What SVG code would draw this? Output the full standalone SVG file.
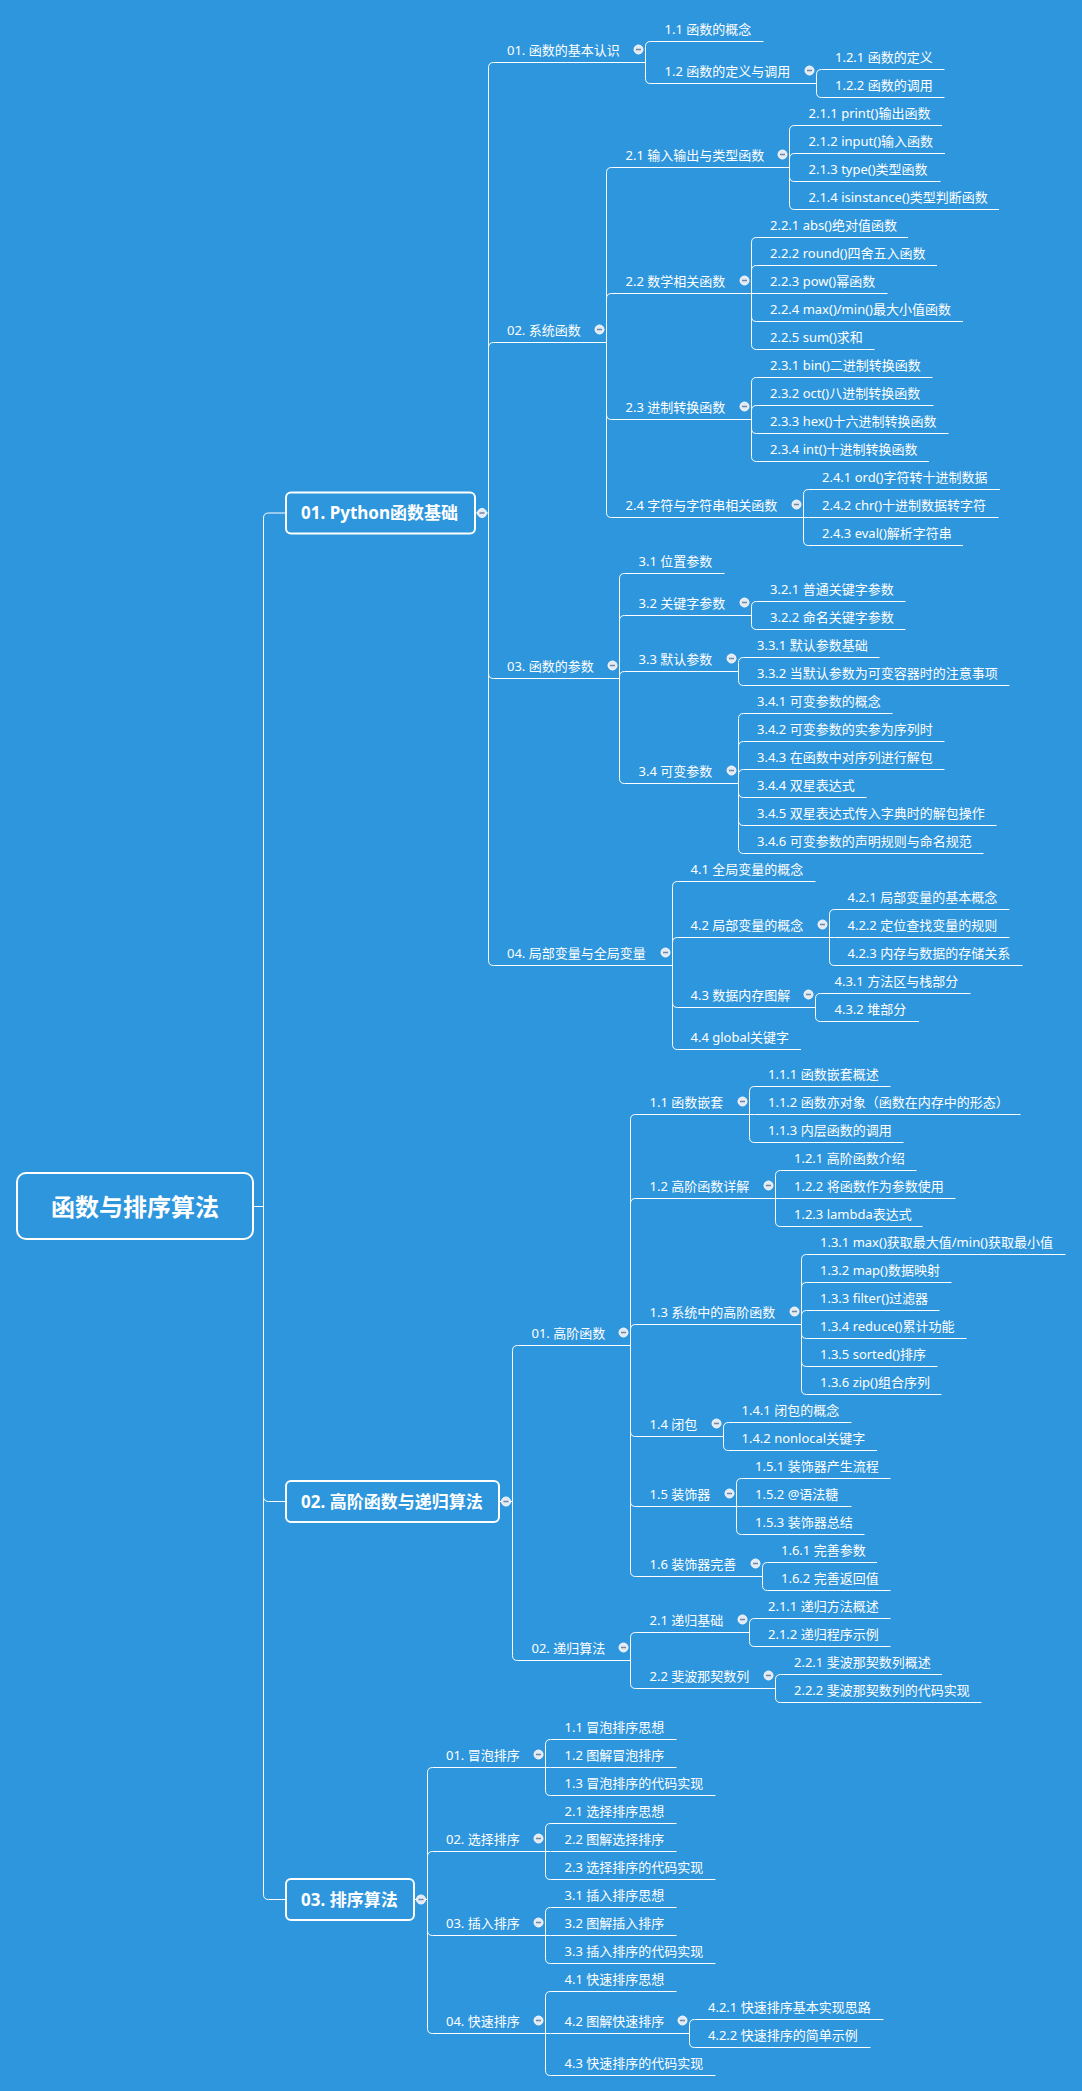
<svg xmlns="http://www.w3.org/2000/svg" xmlns:xlink="http://www.w3.org/1999/xlink" width="1082" height="2091" viewBox="0 0 1082 2091">
<defs>
<style>
.t{font-family:"Noto Sans","Noto Sans CJK SC",sans-serif;font-size:13px;fill:#fff}
.h{font-size:17px;font-weight:bold}
.r{font-size:24px;font-weight:bold}
.u,.c{stroke:#fff;stroke-width:1;fill:none}
.box{fill:none;stroke:#fff;stroke-width:2}
</style>
<g id="b"><circle r="4.5" fill="#e3eaf3" stroke="#f4f7fb" stroke-width="1"/><line x1="-2.5" x2="2.5" y1="0" y2="0" stroke="#6f88a6" stroke-width="1.5"/></g>
</defs>
<rect width="1082" height="2091" fill="#2E96DD"/>

<g id="connectors">
<!-- root -->
<path class="c" d="M253 1206.5 H263.5"/>
<path class="c" d="M263.5 1206.5 V518 Q263.5 513 268.5 513 H286"/>
<path class="c" d="M263.5 1206.5 V1496.5 Q263.5 1501.5 268.5 1501.5 H286"/>
<path class="c" d="M263.5 1206.5 V1894.5 Q263.5 1899.5 268.5 1899.5 H286"/>
<!-- section 1 -->
<path class="c" d="M475 513 H488.5"/>
<path class="c" d="M488.5 513 V67.5 Q488.5 62.5 493.5 62.5"/>
<path class="c" d="M488.5 513 V347.5 Q488.5 342.5 493.5 342.5"/>
<path class="c" d="M488.5 513 V673.5 Q488.5 678.5 493.5 678.5"/>
<path class="c" d="M488.5 513 V960.5 Q488.5 965.5 493.5 965.5"/>
<path class="c" d="M645.5 62.5 V46.5 Q645.5 41.5 650.5 41.5"/>
<path class="c" d="M645.5 62.5 V78.5 Q645.5 83.5 650.5 83.5"/>
<path class="c" d="M816.5 83.5 V74.5 Q816.5 69.5 821.5 69.5"/>
<path class="c" d="M816.5 83.5 V92.5 Q816.5 97.5 821.5 97.5"/>
<path class="c" d="M606.5 342.5 V172.5 Q606.5 167.5 611.5 167.5"/>
<path class="c" d="M606.5 342.5 V298.5 Q606.5 293.5 611.5 293.5"/>
<path class="c" d="M606.5 342.5 V414.5 Q606.5 419.5 611.5 419.5"/>
<path class="c" d="M606.5 342.5 V512.5 Q606.5 517.5 611.5 517.5"/>
<path class="c" d="M789.5 167.5 V130.5 Q789.5 125.5 794.5 125.5"/>
<path class="c" d="M789.5 167.5 V158.5 Q789.5 153.5 794.5 153.5"/>
<path class="c" d="M789.5 167.5 V176.5 Q789.5 181.5 794.5 181.5"/>
<path class="c" d="M789.5 167.5 V204.5 Q789.5 209.5 794.5 209.5"/>
<path class="c" d="M751.5 293.5 V242.5 Q751.5 237.5 756.5 237.5"/>
<path class="c" d="M751.5 293.5 V270.5 Q751.5 265.5 756.5 265.5"/>
<path class="c" d="M751.5 293.5 H756.5"/>
<path class="c" d="M751.5 293.5 V316.5 Q751.5 321.5 756.5 321.5"/>
<path class="c" d="M751.5 293.5 V344.5 Q751.5 349.5 756.5 349.5"/>
<path class="c" d="M751.5 419.5 V382.5 Q751.5 377.5 756.5 377.5"/>
<path class="c" d="M751.5 419.5 V410.5 Q751.5 405.5 756.5 405.5"/>
<path class="c" d="M751.5 419.5 V428.5 Q751.5 433.5 756.5 433.5"/>
<path class="c" d="M751.5 419.5 V456.5 Q751.5 461.5 756.5 461.5"/>
<path class="c" d="M803.5 517.5 V494.5 Q803.5 489.5 808.5 489.5"/>
<path class="c" d="M803.5 517.5 H808.5"/>
<path class="c" d="M803.5 517.5 V540.5 Q803.5 545.5 808.5 545.5"/>
<path class="c" d="M619.5 678.5 V578.5 Q619.5 573.5 624.5 573.5"/>
<path class="c" d="M619.5 678.5 V620.5 Q619.5 615.5 624.5 615.5"/>
<path class="c" d="M619.5 678.5 V676.5 Q619.5 671.5 624.5 671.5"/>
<path class="c" d="M619.5 678.5 V778.5 Q619.5 783.5 624.5 783.5"/>
<path class="c" d="M751.5 615.5 V606.5 Q751.5 601.5 756.5 601.5"/>
<path class="c" d="M751.5 615.5 V624.5 Q751.5 629.5 756.5 629.5"/>
<path class="c" d="M738.5 671.5 V662.5 Q738.5 657.5 743.5 657.5"/>
<path class="c" d="M738.5 671.5 V680.5 Q738.5 685.5 743.5 685.5"/>
<path class="c" d="M738.5 783.5 V718.5 Q738.5 713.5 743.5 713.5"/>
<path class="c" d="M738.5 783.5 V746.5 Q738.5 741.5 743.5 741.5"/>
<path class="c" d="M738.5 783.5 V774.5 Q738.5 769.5 743.5 769.5"/>
<path class="c" d="M738.5 783.5 V792.5 Q738.5 797.5 743.5 797.5"/>
<path class="c" d="M738.5 783.5 V820.5 Q738.5 825.5 743.5 825.5"/>
<path class="c" d="M738.5 783.5 V848.5 Q738.5 853.5 743.5 853.5"/>
<path class="c" d="M672.5 965.5 V886.5 Q672.5 881.5 677.5 881.5"/>
<path class="c" d="M672.5 965.5 V942.5 Q672.5 937.5 677.5 937.5"/>
<path class="c" d="M672.5 965.5 V1002.5 Q672.5 1007.5 677.5 1007.5"/>
<path class="c" d="M672.5 965.5 V1044.5 Q672.5 1049.5 677.5 1049.5"/>
<path class="c" d="M829.5 937.5 V914.5 Q829.5 909.5 834.5 909.5"/>
<path class="c" d="M829.5 937.5 H834.5"/>
<path class="c" d="M829.5 937.5 V960.5 Q829.5 965.5 834.5 965.5"/>
<path class="c" d="M815.5 1007.5 V998.5 Q815.5 993.5 820.5 993.5"/>
<path class="c" d="M815.5 1007.5 V1016.5 Q815.5 1021.5 820.5 1021.5"/>
<!-- section 2 -->
<path class="c" d="M499 1501.5 H512.5"/>
<path class="c" d="M512.5 1501.5 V1350.5 Q512.5 1345.5 517.5 1345.5"/>
<path class="c" d="M512.5 1501.5 V1655.5 Q512.5 1660.5 517.5 1660.5"/>
<path class="c" d="M630.5 1345.5 V1119.5 Q630.5 1114.5 635.5 1114.5"/>
<path class="c" d="M630.5 1345.5 V1203.5 Q630.5 1198.5 635.5 1198.5"/>
<path class="c" d="M630.5 1345.5 V1329.5 Q630.5 1324.5 635.5 1324.5"/>
<path class="c" d="M630.5 1345.5 V1431.5 Q630.5 1436.5 635.5 1436.5"/>
<path class="c" d="M630.5 1345.5 V1501.5 Q630.5 1506.5 635.5 1506.5"/>
<path class="c" d="M630.5 1345.5 V1571.5 Q630.5 1576.5 635.5 1576.5"/>
<path class="c" d="M749.5 1114.5 V1091.5 Q749.5 1086.5 754.5 1086.5"/>
<path class="c" d="M749.5 1114.5 H754.5"/>
<path class="c" d="M749.5 1114.5 V1137.5 Q749.5 1142.5 754.5 1142.5"/>
<path class="c" d="M775.5 1198.5 V1175.5 Q775.5 1170.5 780.5 1170.5"/>
<path class="c" d="M775.5 1198.5 H780.5"/>
<path class="c" d="M775.5 1198.5 V1221.5 Q775.5 1226.5 780.5 1226.5"/>
<path class="c" d="M801.5 1324.5 V1259.5 Q801.5 1254.5 806.5 1254.5"/>
<path class="c" d="M801.5 1324.5 V1287.5 Q801.5 1282.5 806.5 1282.5"/>
<path class="c" d="M801.5 1324.5 V1315.5 Q801.5 1310.5 806.5 1310.5"/>
<path class="c" d="M801.5 1324.5 V1333.5 Q801.5 1338.5 806.5 1338.5"/>
<path class="c" d="M801.5 1324.5 V1361.5 Q801.5 1366.5 806.5 1366.5"/>
<path class="c" d="M801.5 1324.5 V1389.5 Q801.5 1394.5 806.5 1394.5"/>
<path class="c" d="M723.5 1436.5 V1427.5 Q723.5 1422.5 728.5 1422.5"/>
<path class="c" d="M723.5 1436.5 V1445.5 Q723.5 1450.5 728.5 1450.5"/>
<path class="c" d="M736.5 1506.5 V1483.5 Q736.5 1478.5 741.5 1478.5"/>
<path class="c" d="M736.5 1506.5 H741.5"/>
<path class="c" d="M736.5 1506.5 V1529.5 Q736.5 1534.5 741.5 1534.5"/>
<path class="c" d="M762.5 1576.5 V1567.5 Q762.5 1562.5 767.5 1562.5"/>
<path class="c" d="M762.5 1576.5 V1585.5 Q762.5 1590.5 767.5 1590.5"/>
<path class="c" d="M630.5 1660.5 V1637.5 Q630.5 1632.5 635.5 1632.5"/>
<path class="c" d="M630.5 1660.5 V1683.5 Q630.5 1688.5 635.5 1688.5"/>
<path class="c" d="M749.5 1632.5 V1623.5 Q749.5 1618.5 754.5 1618.5"/>
<path class="c" d="M749.5 1632.5 V1641.5 Q749.5 1646.5 754.5 1646.5"/>
<path class="c" d="M775.5 1688.5 V1679.5 Q775.5 1674.5 780.5 1674.5"/>
<path class="c" d="M775.5 1688.5 V1697.5 Q775.5 1702.5 780.5 1702.5"/>
<!-- section 3 -->
<path class="c" d="M414 1899.5 H427.5"/>
<path class="c" d="M427.5 1899.5 V1772.5 Q427.5 1767.5 432.5 1767.5"/>
<path class="c" d="M427.5 1899.5 V1856.5 Q427.5 1851.5 432.5 1851.5"/>
<path class="c" d="M427.5 1899.5 V1930.5 Q427.5 1935.5 432.5 1935.5"/>
<path class="c" d="M427.5 1899.5 V2028.5 Q427.5 2033.5 432.5 2033.5"/>
<path class="c" d="M545.5 1767.5 V1744.5 Q545.5 1739.5 550.5 1739.5"/>
<path class="c" d="M545.5 1767.5 H550.5"/>
<path class="c" d="M545.5 1767.5 V1790.5 Q545.5 1795.5 550.5 1795.5"/>
<path class="c" d="M545.5 1851.5 V1828.5 Q545.5 1823.5 550.5 1823.5"/>
<path class="c" d="M545.5 1851.5 H550.5"/>
<path class="c" d="M545.5 1851.5 V1874.5 Q545.5 1879.5 550.5 1879.5"/>
<path class="c" d="M545.5 1935.5 V1912.5 Q545.5 1907.5 550.5 1907.5"/>
<path class="c" d="M545.5 1935.5 H550.5"/>
<path class="c" d="M545.5 1935.5 V1958.5 Q545.5 1963.5 550.5 1963.5"/>
<path class="c" d="M545.5 2033.5 V1996.5 Q545.5 1991.5 550.5 1991.5"/>
<path class="c" d="M545.5 2033.5 H550.5"/>
<path class="c" d="M545.5 2033.5 V2070.5 Q545.5 2075.5 550.5 2075.5"/>
<path class="c" d="M689.5 2033.5 V2024.5 Q689.5 2019.5 694.5 2019.5"/>
<path class="c" d="M689.5 2033.5 V2042.5 Q689.5 2047.5 694.5 2047.5"/>
</g>

<!-- root -->
<g id="root"><rect class="box" x="17" y="1173" width="236" height="66" rx="9" stroke-width="2.5"/><text class="t r" x="135" y="1216" text-anchor="middle">函数与排序算法</text></g>

<!-- top-level -->
<g id="n1"><rect class="box" x="286" y="492.5" width="189" height="41" rx="5"/><text class="t h" x="301" y="519">01. Python函数基础</text><use href="#b" x="482" y="513"/></g>
<g id="n2"><rect class="box" x="286" y="1481" width="213" height="41" rx="5"/><text class="t h" x="301" y="1507.5">02. 高阶函数与递归算法</text><use href="#b" x="506" y="1501.5"/></g>
<g id="n3"><rect class="box" x="286" y="1879" width="128" height="41" rx="5"/><text class="t h" x="301" y="1905.5">03. 排序算法</text><use href="#b" x="421" y="1899.5"/></g>

<!-- section 1 -->
<g id="n1-1"><text class="t" x="507" y="55">01. 函数的基本认识</text><line class="u" x1="493.5" y1="62.5" x2="645.5" y2="62.5"/><use href="#b" x="638.5" y="49.5"/></g>
<g id="n1-1-1"><text class="t" x="664.5" y="34">1.1 函数的概念</text><line class="u" x1="650.5" y1="41.5" x2="763.5" y2="41.5"/></g>
<g id="n1-1-2"><text class="t" x="664.5" y="76">1.2 函数的定义与调用</text><line class="u" x1="650.5" y1="83.5" x2="816.5" y2="83.5"/><use href="#b" x="809.5" y="70.5"/></g>
<g id="n1-1-2-1"><text class="t" x="835" y="62">1.2.1 函数的定义</text><line class="u" x1="821.5" y1="69.5" x2="944.5" y2="69.5"/></g>
<g id="n1-1-2-2"><text class="t" x="835" y="90">1.2.2 函数的调用</text><line class="u" x1="821.5" y1="97.5" x2="944.5" y2="97.5"/></g>

<g id="n1-2"><text class="t" x="507" y="335">02. 系统函数</text><line class="u" x1="493.5" y1="342.5" x2="606.5" y2="342.5"/><use href="#b" x="599.5" y="329.5"/></g>
<g id="n1-2-1"><text class="t" x="625.5" y="160">2.1 输入输出与类型函数</text><line class="u" x1="611.5" y1="167.5" x2="789.5" y2="167.5"/><use href="#b" x="782.5" y="154.5"/></g>
<g id="n1-2-1-1"><text class="t" x="808.5" y="118">2.1.1 print()输出函数</text><line class="u" x1="794.5" y1="125.5" x2="942" y2="125.5"/></g>
<g id="n1-2-1-2"><text class="t" x="808.5" y="146">2.1.2 input()输入函数</text><line class="u" x1="794.5" y1="153.5" x2="945" y2="153.5"/></g>
<g id="n1-2-1-3"><text class="t" x="808.5" y="174">2.1.3 type()类型函数</text><line class="u" x1="794.5" y1="181.5" x2="940.5" y2="181.5"/></g>
<g id="n1-2-1-4"><text class="t" x="808.5" y="202">2.1.4 isinstance()类型判断函数</text><line class="u" x1="794.5" y1="209.5" x2="999" y2="209.5"/></g>
<g id="n1-2-2"><text class="t" x="625.5" y="286">2.2 数学相关函数</text><line class="u" x1="611.5" y1="293.5" x2="751.5" y2="293.5"/><use href="#b" x="744.5" y="280.5"/></g>
<g id="n1-2-2-1"><text class="t" x="770" y="230">2.2.1 abs()绝对值函数</text><line class="u" x1="756.5" y1="237.5" x2="908" y2="237.5"/></g>
<g id="n1-2-2-2"><text class="t" x="770" y="258">2.2.2 round()四舍五入函数</text><line class="u" x1="756.5" y1="265.5" x2="937" y2="265.5"/></g>
<g id="n1-2-2-3"><text class="t" x="770" y="286">2.2.3 pow()幂函数</text><line class="u" x1="756.5" y1="293.5" x2="887.5" y2="293.5"/></g>
<g id="n1-2-2-4"><text class="t" x="770" y="314">2.2.4 max()/min()最大小值函数</text><line class="u" x1="756.5" y1="321.5" x2="963" y2="321.5"/></g>
<g id="n1-2-2-5"><text class="t" x="770" y="342">2.2.5 sum()求和</text><line class="u" x1="756.5" y1="349.5" x2="874.5" y2="349.5"/></g>
<g id="n1-2-3"><text class="t" x="625.5" y="412">2.3 进制转换函数</text><line class="u" x1="611.5" y1="419.5" x2="751.5" y2="419.5"/><use href="#b" x="744.5" y="406.5"/></g>
<g id="n1-2-3-1"><text class="t" x="770" y="370">2.3.1 bin()二进制转换函数</text><line class="u" x1="756.5" y1="377.5" x2="932.5" y2="377.5"/></g>
<g id="n1-2-3-2"><text class="t" x="770" y="398">2.3.2 oct()八进制转换函数</text><line class="u" x1="756.5" y1="405.5" x2="933.5" y2="405.5"/></g>
<g id="n1-2-3-3"><text class="t" x="770" y="426">2.3.3 hex()十六进制转换函数</text><line class="u" x1="756.5" y1="433.5" x2="948.5" y2="433.5"/></g>
<g id="n1-2-3-4"><text class="t" x="770" y="454">2.3.4 int()十进制转换函数</text><line class="u" x1="756.5" y1="461.5" x2="929" y2="461.5"/></g>
<g id="n1-2-4"><text class="t" x="625.5" y="510">2.4 字符与字符串相关函数</text><line class="u" x1="611.5" y1="517.5" x2="803.5" y2="517.5"/><use href="#b" x="796.5" y="504.5"/></g>
<g id="n1-2-4-1"><text class="t" x="822" y="482">2.4.1 ord()字符转十进制数据</text><line class="u" x1="808.5" y1="489.5" x2="1000" y2="489.5"/></g>
<g id="n1-2-4-2"><text class="t" x="822" y="510">2.4.2 chr()十进制数据转字符</text><line class="u" x1="808.5" y1="517.5" x2="998.5" y2="517.5"/></g>
<g id="n1-2-4-3"><text class="t" x="822" y="538">2.4.3 eval()解析字符串</text><line class="u" x1="808.5" y1="545.5" x2="963" y2="545.5"/></g>

<g id="n1-3"><text class="t" x="507" y="671">03. 函数的参数</text><line class="u" x1="493.5" y1="678.5" x2="619.5" y2="678.5"/><use href="#b" x="612.5" y="665.5"/></g>
<g id="n1-3-1"><text class="t" x="638.5" y="566">3.1 位置参数</text><line class="u" x1="624.5" y1="573.5" x2="724.5" y2="573.5"/></g>
<g id="n1-3-2"><text class="t" x="638.5" y="608">3.2 关键字参数</text><line class="u" x1="624.5" y1="615.5" x2="751.5" y2="615.5"/><use href="#b" x="744.5" y="602.5"/></g>
<g id="n1-3-2-1"><text class="t" x="770" y="594">3.2.1 普通关键字参数</text><line class="u" x1="756.5" y1="601.5" x2="905.5" y2="601.5"/></g>
<g id="n1-3-2-2"><text class="t" x="770" y="622">3.2.2 命名关键字参数</text><line class="u" x1="756.5" y1="629.5" x2="905.5" y2="629.5"/></g>
<g id="n1-3-3"><text class="t" x="638.5" y="664">3.3 默认参数</text><line class="u" x1="624.5" y1="671.5" x2="738.5" y2="671.5"/><use href="#b" x="731.5" y="658.5"/></g>
<g id="n1-3-3-1"><text class="t" x="757" y="650">3.3.1 默认参数基础</text><line class="u" x1="743.5" y1="657.5" x2="879.5" y2="657.5"/></g>
<g id="n1-3-3-2"><text class="t" x="757" y="678">3.3.2 当默认参数为可变容器时的注意事项</text><line class="u" x1="743.5" y1="685.5" x2="1009.5" y2="685.5"/></g>
<g id="n1-3-4"><text class="t" x="638.5" y="776">3.4 可变参数</text><line class="u" x1="624.5" y1="783.5" x2="738.5" y2="783.5"/><use href="#b" x="731.5" y="770.5"/></g>
<g id="n1-3-4-1"><text class="t" x="757" y="706">3.4.1 可变参数的概念</text><line class="u" x1="743.5" y1="713.5" x2="892.5" y2="713.5"/></g>
<g id="n1-3-4-2"><text class="t" x="757" y="734">3.4.2 可变参数的实参为序列时</text><line class="u" x1="743.5" y1="741.5" x2="944.5" y2="741.5"/></g>
<g id="n1-3-4-3"><text class="t" x="757" y="762">3.4.3 在函数中对序列进行解包</text><line class="u" x1="743.5" y1="769.5" x2="944.5" y2="769.5"/></g>
<g id="n1-3-4-4"><text class="t" x="757" y="790">3.4.4 双星表达式</text><line class="u" x1="743.5" y1="797.5" x2="866.5" y2="797.5"/></g>
<g id="n1-3-4-5"><text class="t" x="757" y="818">3.4.5 双星表达式传入字典时的解包操作</text><line class="u" x1="743.5" y1="825.5" x2="996.5" y2="825.5"/></g>
<g id="n1-3-4-6"><text class="t" x="757" y="846">3.4.6 可变参数的声明规则与命名规范</text><line class="u" x1="743.5" y1="853.5" x2="983.5" y2="853.5"/></g>

<g id="n1-4"><text class="t" x="507" y="958">04. 局部变量与全局变量</text><line class="u" x1="493.5" y1="965.5" x2="672.5" y2="965.5"/><use href="#b" x="665.5" y="952.5"/></g>
<g id="n1-4-1"><text class="t" x="690.5" y="874">4.1 全局变量的概念</text><line class="u" x1="677.5" y1="881.5" x2="815.5" y2="881.5"/></g>
<g id="n1-4-2"><text class="t" x="690.5" y="930">4.2 局部变量的概念</text><line class="u" x1="677.5" y1="937.5" x2="829.5" y2="937.5"/><use href="#b" x="822.5" y="924.5"/></g>
<g id="n1-4-2-1"><text class="t" x="847.5" y="902">4.2.1 局部变量的基本概念</text><line class="u" x1="834.5" y1="909.5" x2="1009.5" y2="909.5"/></g>
<g id="n1-4-2-2"><text class="t" x="847.5" y="930">4.2.2 定位查找变量的规则</text><line class="u" x1="834.5" y1="937.5" x2="1009.5" y2="937.5"/></g>
<g id="n1-4-2-3"><text class="t" x="847.5" y="958">4.2.3 内存与数据的存储关系</text><line class="u" x1="834.5" y1="965.5" x2="1022.5" y2="965.5"/></g>
<g id="n1-4-3"><text class="t" x="690.5" y="1000">4.3 数据内存图解</text><line class="u" x1="677.5" y1="1007.5" x2="815.5" y2="1007.5"/><use href="#b" x="808.5" y="994.5"/></g>
<g id="n1-4-3-1"><text class="t" x="834.5" y="986">4.3.1 方法区与栈部分</text><line class="u" x1="820.5" y1="993.5" x2="970.5" y2="993.5"/></g>
<g id="n1-4-3-2"><text class="t" x="834.5" y="1014">4.3.2 堆部分</text><line class="u" x1="820.5" y1="1021.5" x2="919" y2="1021.5"/></g>
<g id="n1-4-4"><text class="t" x="690.5" y="1042">4.4 global关键字</text><line class="u" x1="677.5" y1="1049.5" x2="801" y2="1049.5"/></g>

<!-- section 2 -->
<g id="n2-1"><text class="t" x="531.5" y="1338">01. 高阶函数</text><line class="u" x1="517.5" y1="1345.5" x2="630.5" y2="1345.5"/><use href="#b" x="623.5" y="1332.5"/></g>
<g id="n2-1-1"><text class="t" x="649.5" y="1107">1.1 函数嵌套</text><line class="u" x1="635.5" y1="1114.5" x2="749.5" y2="1114.5"/><use href="#b" x="742.5" y="1101.5"/></g>
<g id="n2-1-1-1"><text class="t" x="768" y="1079">1.1.1 函数嵌套概述</text><line class="u" x1="754.5" y1="1086.5" x2="890.5" y2="1086.5"/></g>
<g id="n2-1-1-2"><text class="t" x="768" y="1107">1.1.2 函数亦对象（函数在内存中的形态）</text><line class="u" x1="754.5" y1="1114.5" x2="1020.5" y2="1114.5"/></g>
<g id="n2-1-1-3"><text class="t" x="768" y="1135">1.1.3 内层函数的调用</text><line class="u" x1="754.5" y1="1142.5" x2="903.5" y2="1142.5"/></g>
<g id="n2-1-2"><text class="t" x="649.5" y="1191">1.2 高阶函数详解</text><line class="u" x1="635.5" y1="1198.5" x2="775.5" y2="1198.5"/><use href="#b" x="768.5" y="1185.5"/></g>
<g id="n2-1-2-1"><text class="t" x="794" y="1163">1.2.1 高阶函数介绍</text><line class="u" x1="780.5" y1="1170.5" x2="916.5" y2="1170.5"/></g>
<g id="n2-1-2-2"><text class="t" x="794" y="1191">1.2.2 将函数作为参数使用</text><line class="u" x1="780.5" y1="1198.5" x2="955.5" y2="1198.5"/></g>
<g id="n2-1-2-3"><text class="t" x="794" y="1219">1.2.3 lambda表达式</text><line class="u" x1="780.5" y1="1226.5" x2="922.5" y2="1226.5"/></g>
<g id="n2-1-3"><text class="t" x="649.5" y="1317">1.3 系统中的高阶函数</text><line class="u" x1="635.5" y1="1324.5" x2="801.5" y2="1324.5"/><use href="#b" x="794.5" y="1311.5"/></g>
<g id="n2-1-3-1"><text class="t" x="820" y="1247">1.3.1 max()获取最大值/min()获取最小值</text><line class="u" x1="806.5" y1="1254.5" x2="1065.5" y2="1254.5"/></g>
<g id="n2-1-3-2"><text class="t" x="820" y="1275">1.3.2 map()数据映射</text><line class="u" x1="806.5" y1="1282.5" x2="951.5" y2="1282.5"/></g>
<g id="n2-1-3-3"><text class="t" x="820" y="1303">1.3.3 filter()过滤器</text><line class="u" x1="806.5" y1="1310.5" x2="939.5" y2="1310.5"/></g>
<g id="n2-1-3-4"><text class="t" x="820" y="1331">1.3.4 reduce()累计功能</text><line class="u" x1="806.5" y1="1338.5" x2="966.5" y2="1338.5"/></g>
<g id="n2-1-3-5"><text class="t" x="820" y="1359">1.3.5 sorted()排序</text><line class="u" x1="806.5" y1="1366.5" x2="937.5" y2="1366.5"/></g>
<g id="n2-1-3-6"><text class="t" x="820" y="1387">1.3.6 zip()组合序列</text><line class="u" x1="806.5" y1="1394.5" x2="941.5" y2="1394.5"/></g>
<g id="n2-1-4"><text class="t" x="649.5" y="1429">1.4 闭包</text><line class="u" x1="635.5" y1="1436.5" x2="723.5" y2="1436.5"/><use href="#b" x="716.5" y="1423.5"/></g>
<g id="n2-1-4-1"><text class="t" x="741.5" y="1415">1.4.1 闭包的概念</text><line class="u" x1="728.5" y1="1422.5" x2="851.5" y2="1422.5"/></g>
<g id="n2-1-4-2"><text class="t" x="741.5" y="1443">1.4.2 nonlocal关键字</text><line class="u" x1="728.5" y1="1450.5" x2="877" y2="1450.5"/></g>
<g id="n2-1-5"><text class="t" x="649.5" y="1499">1.5 装饰器</text><line class="u" x1="635.5" y1="1506.5" x2="736.5" y2="1506.5"/><use href="#b" x="729.5" y="1493.5"/></g>
<g id="n2-1-5-1"><text class="t" x="755" y="1471">1.5.1 装饰器产生流程</text><line class="u" x1="741.5" y1="1478.5" x2="890.5" y2="1478.5"/></g>
<g id="n2-1-5-2"><text class="t" x="755" y="1499">1.5.2 @语法糖</text><line class="u" x1="741.5" y1="1506.5" x2="851.5" y2="1506.5"/></g>
<g id="n2-1-5-3"><text class="t" x="755" y="1527">1.5.3 装饰器总结</text><line class="u" x1="741.5" y1="1534.5" x2="864.5" y2="1534.5"/></g>
<g id="n2-1-6"><text class="t" x="649.5" y="1569">1.6 装饰器完善</text><line class="u" x1="635.5" y1="1576.5" x2="762.5" y2="1576.5"/><use href="#b" x="755.5" y="1563.5"/></g>
<g id="n2-1-6-1"><text class="t" x="781" y="1555">1.6.1 完善参数</text><line class="u" x1="767.5" y1="1562.5" x2="877" y2="1562.5"/></g>
<g id="n2-1-6-2"><text class="t" x="781" y="1583">1.6.2 完善返回值</text><line class="u" x1="767.5" y1="1590.5" x2="890.5" y2="1590.5"/></g>

<g id="n2-2"><text class="t" x="531.5" y="1653">02. 递归算法</text><line class="u" x1="517.5" y1="1660.5" x2="630.5" y2="1660.5"/><use href="#b" x="623.5" y="1647.5"/></g>
<g id="n2-2-1"><text class="t" x="649.5" y="1625">2.1 递归基础</text><line class="u" x1="635.5" y1="1632.5" x2="749.5" y2="1632.5"/><use href="#b" x="742.5" y="1619.5"/></g>
<g id="n2-2-1-1"><text class="t" x="768" y="1611">2.1.1 递归方法概述</text><line class="u" x1="754.5" y1="1618.5" x2="890.5" y2="1618.5"/></g>
<g id="n2-2-1-2"><text class="t" x="768" y="1639">2.1.2 递归程序示例</text><line class="u" x1="754.5" y1="1646.5" x2="890.5" y2="1646.5"/></g>
<g id="n2-2-2"><text class="t" x="649.5" y="1681">2.2 斐波那契数列</text><line class="u" x1="635.5" y1="1688.5" x2="775.5" y2="1688.5"/><use href="#b" x="768.5" y="1675.5"/></g>
<g id="n2-2-2-1"><text class="t" x="794" y="1667">2.2.1 斐波那契数列概述</text><line class="u" x1="780.5" y1="1674.5" x2="942" y2="1674.5"/></g>
<g id="n2-2-2-2"><text class="t" x="794" y="1695">2.2.2 斐波那契数列的代码实现</text><line class="u" x1="780.5" y1="1702.5" x2="981.5" y2="1702.5"/></g>

<!-- section 3 -->
<g id="n3-1"><text class="t" x="446" y="1760">01. 冒泡排序</text><line class="u" x1="432.5" y1="1767.5" x2="545.5" y2="1767.5"/><use href="#b" x="538.5" y="1754.5"/></g>
<g id="n3-1-1"><text class="t" x="564.5" y="1732">1.1 冒泡排序思想</text><line class="u" x1="550.5" y1="1739.5" x2="676.5" y2="1739.5"/></g>
<g id="n3-1-2"><text class="t" x="564.5" y="1760">1.2 图解冒泡排序</text><line class="u" x1="550.5" y1="1767.5" x2="676.5" y2="1767.5"/></g>
<g id="n3-1-3"><text class="t" x="564.5" y="1788">1.3 冒泡排序的代码实现</text><line class="u" x1="550.5" y1="1795.5" x2="715.5" y2="1795.5"/></g>
<g id="n3-2"><text class="t" x="446" y="1844">02. 选择排序</text><line class="u" x1="432.5" y1="1851.5" x2="545.5" y2="1851.5"/><use href="#b" x="538.5" y="1838.5"/></g>
<g id="n3-2-1"><text class="t" x="564.5" y="1816">2.1 选择排序思想</text><line class="u" x1="550.5" y1="1823.5" x2="676.5" y2="1823.5"/></g>
<g id="n3-2-2"><text class="t" x="564.5" y="1844">2.2 图解选择排序</text><line class="u" x1="550.5" y1="1851.5" x2="676.5" y2="1851.5"/></g>
<g id="n3-2-3"><text class="t" x="564.5" y="1872">2.3 选择排序的代码实现</text><line class="u" x1="550.5" y1="1879.5" x2="715.5" y2="1879.5"/></g>
<g id="n3-3"><text class="t" x="446" y="1928">03. 插入排序</text><line class="u" x1="432.5" y1="1935.5" x2="545.5" y2="1935.5"/><use href="#b" x="538.5" y="1922.5"/></g>
<g id="n3-3-1"><text class="t" x="564.5" y="1900">3.1 插入排序思想</text><line class="u" x1="550.5" y1="1907.5" x2="676.5" y2="1907.5"/></g>
<g id="n3-3-2"><text class="t" x="564.5" y="1928">3.2 图解插入排序</text><line class="u" x1="550.5" y1="1935.5" x2="676.5" y2="1935.5"/></g>
<g id="n3-3-3"><text class="t" x="564.5" y="1956">3.3 插入排序的代码实现</text><line class="u" x1="550.5" y1="1963.5" x2="715.5" y2="1963.5"/></g>
<g id="n3-4"><text class="t" x="446" y="2026">04. 快速排序</text><line class="u" x1="432.5" y1="2033.5" x2="545.5" y2="2033.5"/><use href="#b" x="538.5" y="2020.5"/></g>
<g id="n3-4-1"><text class="t" x="564.5" y="1984">4.1 快速排序思想</text><line class="u" x1="550.5" y1="1991.5" x2="676.5" y2="1991.5"/></g>
<g id="n3-4-2"><text class="t" x="564.5" y="2026">4.2 图解快速排序</text><line class="u" x1="550.5" y1="2033.5" x2="689.5" y2="2033.5"/><use href="#b" x="682.5" y="2020.5"/></g>
<g id="n3-4-2-1"><text class="t" x="708" y="2012">4.2.1 快速排序基本实现思路</text><line class="u" x1="694.5" y1="2019.5" x2="883.5" y2="2019.5"/></g>
<g id="n3-4-2-2"><text class="t" x="708" y="2040">4.2.2 快速排序的简单示例</text><line class="u" x1="694.5" y1="2047.5" x2="870.5" y2="2047.5"/></g>
<g id="n3-4-3"><text class="t" x="564.5" y="2068">4.3 快速排序的代码实现</text><line class="u" x1="550.5" y1="2075.5" x2="715.5" y2="2075.5"/></g>
</svg>
